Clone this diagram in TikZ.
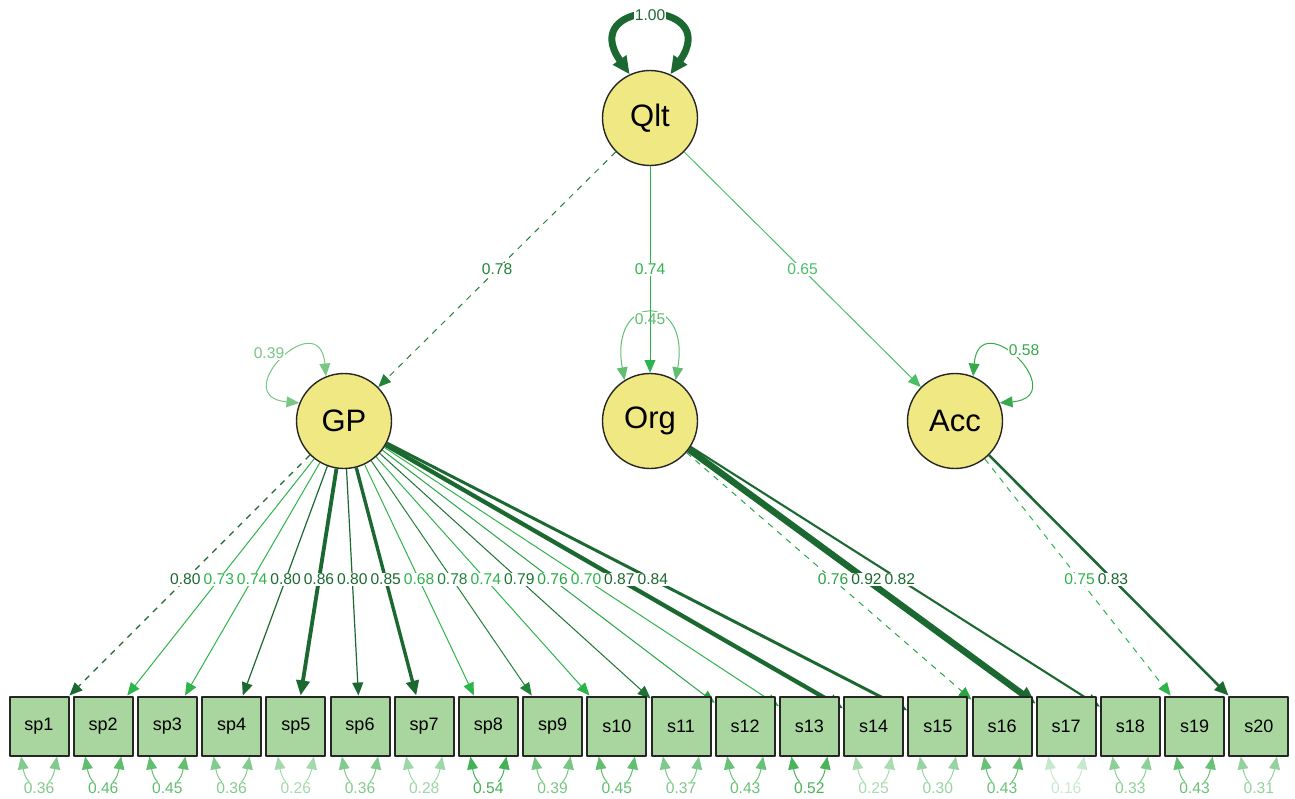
\documentclass[tikz,border=0pt]{standalone}
\usepackage{fontspec}
\setmainfont{Liberation Sans}
\usetikzlibrary{arrows.meta,calc}
\pgfdeclarelayer{edges}
\pgfsetlayers{edges,main}
\definecolor{latfill}{RGB}{240,232,130}
\definecolor{manfill}{RGB}{168,214,158}
\definecolor{dkgreen}{RGB}{27,105,48}
\definecolor{ltgreen}{RGB}{45,180,75}
\definecolor{resgreen}{RGB}{50,170,70}
\begin{document}
\begin{tikzpicture}[x=0.5pt, y=-0.5pt, line join=round, >={Triangle[length=6pt 0.8, width=5pt 0.8]},
	latent/.style={circle, draw=black!85, line width=0.7pt, fill=latfill, minimum size=47.5pt, inner sep=0pt, font=\fontsize{15.5}{16}\selectfont},
	manifest/.style={rectangle, draw=black!85, line width=1pt, fill=manfill, minimum size=29.5pt, inner sep=0pt, font=\fontsize{9}{10}\selectfont},
	elabel/.style={fill=white, inner sep=0.5pt, font=\fontsize{7.8}{8}\selectfont}]
	\useasboundingbox (0,0) rectangle (1295,798);
	\node[latent] (Qlt) at (650,118) {Qlt};
	\node[latent] (GP) at (344,421) {GP};
	\node[latent] (Org) at (650,421) {Org};
	\node[latent] (Acc) at (955,421) {Acc};
	\foreach \t [count=\i from 0] in {sp1,sp2,sp3,sp4,sp5,sp6,sp7,sp8,sp9,s10,s11,s12,s13,s14,s15,s16,s17,s18,s19,s20}
		\node[manifest] (\t) at ({39+64.2*\i},726) {\t};
	\foreach \f/\t/\v/\ls in {GP/sp1/0.80/dashed, GP/sp2/0.73/solid, GP/sp3/0.74/solid, GP/sp4/0.80/solid, GP/sp5/0.86/solid, GP/sp6/0.80/solid, GP/sp7/0.85/solid, GP/sp8/0.68/solid, GP/sp9/0.78/solid, GP/s10/0.74/solid, GP/s11/0.79/solid, GP/s12/0.76/solid, GP/s13/0.70/solid, GP/s14/0.87/solid, GP/s15/0.84/solid, Org/s16/0.76/dashed, Org/s17/0.92/solid, Org/s18/0.82/solid, Acc/s19/0.75/dashed, Acc/s20/0.83/solid}{
		\pgfmathsetmacro\pc{min(100,max(0,(\v-0.75)*2200))}
		\pgfmathsetmacro\lw{max(0.5,0.6+(\v-0.8)*22)}
		\begin{pgfonlayer}{edges}
			\draw[->, \ls, draw=dkgreen!\pc!ltgreen, line width=\lw pt] (\f) -- (\t);
		\end{pgfonlayer}
		\node[elabel, text=dkgreen!\pc!ltgreen] at ($(\f)!.52!(\t)$) {\v};
	}
	\foreach \t/\v in {sp1/0.36, sp2/0.46, sp3/0.45, sp4/0.36, sp5/0.26, sp6/0.36, sp7/0.28, sp8/0.54, sp9/0.39, s10/0.45, s11/0.37, s12/0.43, s13/0.52, s14/0.25, s15/0.30, s16/0.43, s17/0.16, s18/0.33, s19/0.43, s20/0.31}{
		\pgfmathsetmacro\pc{min(100,\v*170)}
		\begin{pgfonlayer}{edges}
			\draw[<->, draw=resgreen!\pc!white, line width=0.5pt] ([xshift=-9pt]\t.south) to[out=-80, in=-100, looseness=2.6] ([xshift=9pt]\t.south);
		\end{pgfonlayer}
		\node[elabel, text=resgreen!\pc!white] at ([yshift=-16pt]\t.south) {\v};
	}
	\draw[<->, draw=dkgreen, line width=3.5pt] (Qlt.115) to[out=125, in=55, looseness=5.9] (Qlt.65);
	\node[elabel, text=dkgreen] at ([yshift=27.5pt]Qlt.north) {1.00};
	\draw[<->, draw=resgreen!66!white, line width=0.5pt] (GP.158) to[out=175, in=95, looseness=5] (GP.112);
	\node[elabel, text=resgreen!66!white] at ([xshift=-37.5pt, yshift=34pt]GP.center) {0.39};
	\draw[<->, draw=resgreen!77!white, line width=0.5pt] (Org.122) to[out=100, in=80, looseness=4.5] (Org.58);
	\node[elabel, text=resgreen!77!white] at ([yshift=27pt]Org.north) {0.45};
	\draw[<->, draw=resgreen!99!white, line width=0.5pt] (Acc.68) to[out=85, in=5, looseness=5] (Acc.22);
	\node[elabel, text=resgreen!99!white] at ([xshift=34.5pt, yshift=35.5pt]Acc.center) {0.58};
	\draw[->, dashed, draw=dkgreen!66!ltgreen, line width=0.5pt] (Qlt) -- (GP);
	\draw[->, draw=ltgreen, line width=0.5pt] (Qlt) -- (Org);
	\draw[->, draw=ltgreen!85!white, line width=0.5pt] (Qlt) -- (Acc);
	\node[elabel, text=dkgreen!66!ltgreen] at ($(Qlt)!.5!(GP)$) {0.78};
	\node[elabel, text=ltgreen] at ($(Qlt)!.5!(Org)$) {0.74};
	\node[elabel, text=ltgreen!85!white] at ($(Qlt)!.5!(Acc)$) {0.65};
\end{tikzpicture}
\end{document}
